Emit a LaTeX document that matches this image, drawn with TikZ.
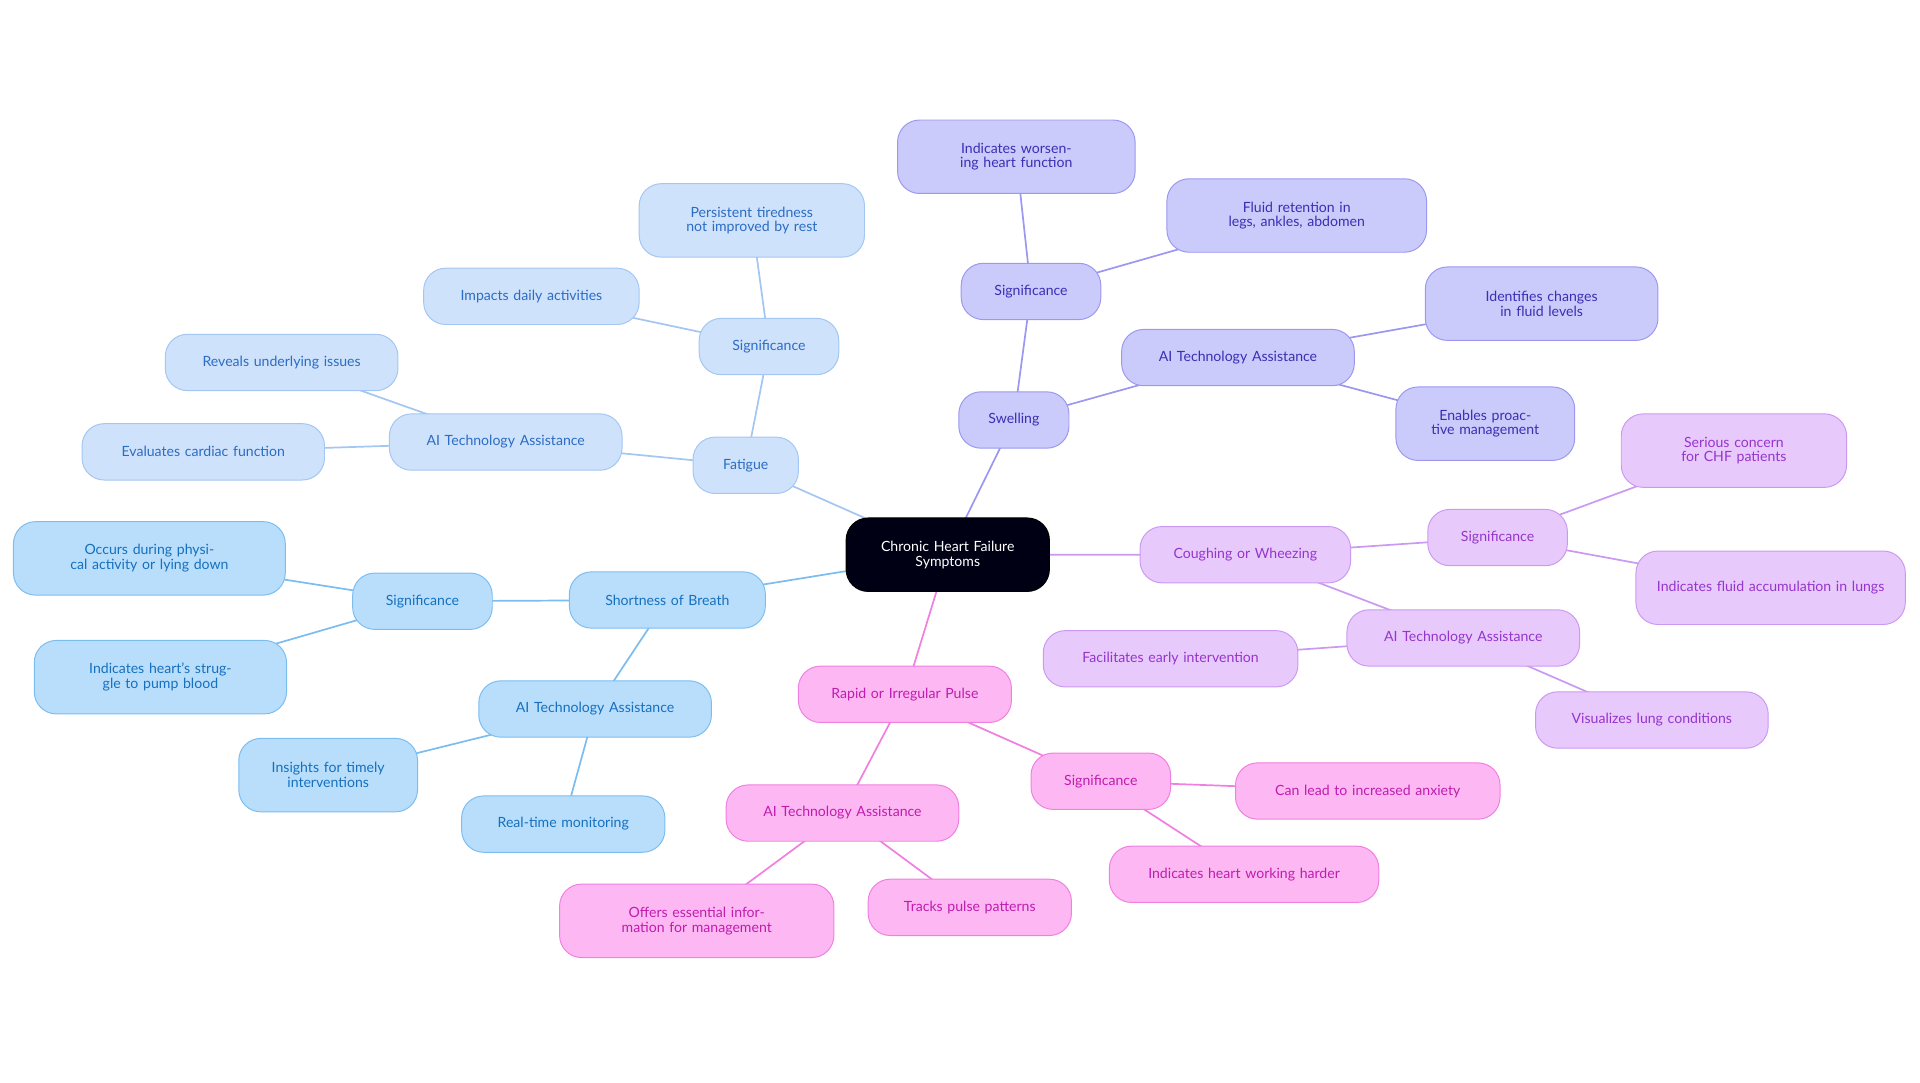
\documentclass[tikz,border=0pt]{standalone}
\usepackage{fontspec}
\setmainfont{Lato}
\usetikzlibrary{backgrounds}
\definecolor{fa}{HTML}{CFE2FB}\definecolor{fad}{HTML}{A3C6F2}\definecolor{fat}{HTML}{2B6CC4}
\definecolor{sb}{HTML}{B8DEFC}\definecolor{sbd}{HTML}{7CBDF0}\definecolor{sbt}{HTML}{1670BE}
\definecolor{sw}{HTML}{CACAFB}\definecolor{swd}{HTML}{9C98F0}\definecolor{swt}{HTML}{3B2FB3}
\definecolor{co}{HTML}{E8C9FC}\definecolor{cod}{HTML}{CC99F2}\definecolor{cot}{HTML}{9535CC}
\definecolor{pu}{HTML}{FDB8F3}\definecolor{pud}{HTML}{F07FE0}\definecolor{put}{HTML}{C01CAE}
\tikzset{
 base/.style={rounded corners=18pt,draw,line width=0.8pt,align=center,font=\fontsize{11.5}{12}\selectfont,inner sep=0pt},
 fab/.style={base,fill=fa,draw=fad,text=fat},
 sbb/.style={base,fill=sb,draw=sbd,text=sbt},
 swb/.style={base,fill=sw,draw=swd,text=swt},
 cob/.style={base,fill=co,draw=cod,text=cot},
 pub/.style={base,fill=pu,draw=pud,text=put},
 ctr/.style={base,fill=black!92!blue,draw=black,text=white},
 fae/.style={draw=fad,line width=1.4pt},
 sbe/.style={draw=sbd,line width=1.4pt},
 swe/.style={draw=swd,line width=1.4pt},
 coe/.style={draw=cod,line width=1.4pt},
 pue/.style={draw=pud,line width=1.4pt},
}
\newcommand{\mn}[7]{\node[#6,minimum width=#4pt,minimum height=#5pt,text width=#4pt-28pt] (#1) at (#2pt,-#3pt) {#7};}
\begin{document}
\begin{tikzpicture}
\useasboundingbox (0,0) rectangle (1568pt,-884pt);
\mn{c}{774}{453}{166}{60}{ctr}{Chronic Heart Failure\\Symptoms}
\mn{f}{609}{380}{86}{46}{fab}{Fatigue}
\mn{fs}{628}{283}{114}{46}{fab}{Significance}
\mn{fs1}{614}{180}{184}{60}{fab}{Persistent tiredness not improved by rest}
\mn{fs2}{434}{242}{176}{46}{fab}{Impacts daily activities}
\mn{fa}{413}{361}{190}{46}{fab}{AI Technology Assistance}
\mn{fa1}{230}{296}{190}{46}{fab}{Reveals underlying issues}
\mn{fa2}{166}{369}{198}{46}{fab}{Evaluates cardiac function}
\mn{s}{545}{490}{160}{46}{sbb}{Shortness of Breath}
\mn{ss}{345}{491}{114}{46}{sbb}{Significance}
\mn{ss1}{122}{456}{222}{60}{sbb}{Occurs during physical activity or lying down}
\mn{ss2}{131}{553}{206}{60}{sbb}{Indicates heart's struggle to pump blood}
\mn{sa}{486}{579}{190}{46}{sbb}{AI Technology Assistance}
\mn{sa1}{268}{633}{146}{60}{sbb}{Insights for timely interventions}
\mn{sa2}{460}{673}{166}{46}{sbb}{Real-time monitoring}
\mn{w}{828}{343}{90}{46}{swb}{Swelling}
\mn{ws}{842}{238}{114}{46}{swb}{Significance}
\mn{ws1}{830}{128}{194}{60}{swb}{Indicates worsening heart function}
\mn{ws2}{1059}{176}{212}{60}{swb}{Fluid retention in legs, ankles, abdomen}
\mn{wa}{1011}{292}{190}{46}{swb}{AI Technology Assistance}
\mn{wa1}{1259}{248}{190}{60}{swb}{Identifies changes in fluid levels}
\mn{wa2}{1213}{346}{146}{60}{swb}{Enables proactive management}
\mn{k}{1017}{453}{172}{46}{cob}{Coughing or Wheezing}
\mn{ks}{1223}{439}{114}{46}{cob}{Significance}
\mn{ks1}{1416}{368}{184}{60}{cob}{Serious concern for CHF patients}
\mn{ks2}{1446}{480}{220}{60}{cob}{Indicates fluid accumulation in lungs}
\mn{ka}{1195}{521}{190}{46}{cob}{AI Technology Assistance}
\mn{ka1}{956}{538}{208}{46}{cob}{Facilitates early intervention}
\mn{ka2}{1349}{588}{190}{46}{cob}{Visualizes lung conditions}
\mn{p}{739}{567}{174}{46}{pub}{Rapid or Irregular Pulse}
\mn{ps}{899}{638}{114}{46}{pub}{Significance}
\mn{ps1}{1117}{646}{216}{46}{pub}{Can lead to increased anxiety}
\mn{ps2}{1016}{714}{220}{46}{pub}{Indicates heart working harder}
\mn{pa}{688}{664}{190}{46}{pub}{AI Technology Assistance}
\mn{pa1}{569}{752}{224}{60}{pub}{Offers essential information for management}
\mn{pa2}{792}{741}{166}{46}{pub}{Tracks pulse patterns}
\begin{pgfonlayer}{background}
\draw[fae] (c.center)--(f.center) (f.center)--(fs.center) (fs.center)--(fs1.center) (fs.center)--(fs2.center) (f.center)--(fa.center) (fa.center)--(fa1.center) (fa.center)--(fa2.center);
\draw[sbe] (c.center)--(s.center) (s.center)--(ss.center) (ss.center)--(ss1.center) (ss.center)--(ss2.center) (s.center)--(sa.center) (sa.center)--(sa1.center) (sa.center)--(sa2.center);
\draw[swe] (c.center)--(w.center) (w.center)--(ws.center) (ws.center)--(ws1.center) (ws.center)--(ws2.center) (w.center)--(wa.center) (wa.center)--(wa1.center) (wa.center)--(wa2.center);
\draw[coe] (c.center)--(k.center) (k.center)--(ks.center) (ks.center)--(ks1.center) (ks.center)--(ks2.center) (k.center)--(ka.center) (ka.center)--(ka1.center) (ka.center)--(ka2.center);
\draw[pue] (c.center)--(p.center) (p.center)--(ps.center) (ps.center)--(ps1.center) (ps.center)--(ps2.center) (p.center)--(pa.center) (pa.center)--(pa1.center) (pa.center)--(pa2.center);
\end{pgfonlayer}
\end{tikzpicture}
\end{document}
